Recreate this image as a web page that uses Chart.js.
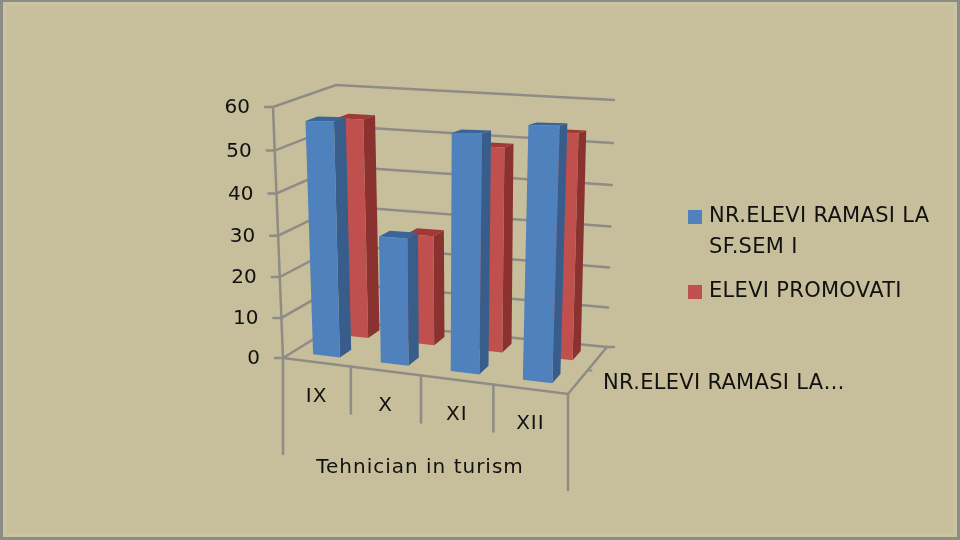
<!DOCTYPE html>
<html lang="en">
<head>
    <meta charset="UTF-8">
    <title>Tehnician in turism</title>
    <script src="https://cdn.jsdelivr.net/npm/chart.js"></script>
    <style>
        html, body { margin: 0; padding: 0; width: 960px; height: 540px; overflow: hidden; background: #C7BF9B; }
        #frame { position: absolute; left: 0; top: 0; width: 960px; height: 540px; box-sizing: border-box;
                 border: solid #8C8C86; border-width: 2px 3px 3px 3px; box-shadow: inset 0 0 0 4px #CBC4A0; }
        canvas { position: absolute; left: 0; top: 0; }
    </style>
</head>
<body>
    <div id="frame"></div>
    <canvas id="bars" width="960" height="540"></canvas>

    <script>
        const categories = ["IX", "X", "XI", "XII"];
        const seriesNames = ["NR.ELEVI RAMASI LA SF.SEM I", "ELEVI PROMOVATI"];
        const elevi = [56, 30, 54, 56];
        const promovati = [54, 27, 49, 53];
        const axisTitle = "Tehnician in turism";
        const depthLabel = "NR.ELEVI RAMASI LA…";
        const legendLines = [["NR.ELEVI RAMASI LA", "SF.SEM I"], ["ELEVI PROMOVATI"]];

        // corners of the 3D box as seen in the picture
        const box = {
            frontBottomLeft: [283, 358], frontBottomRight: [568, 394],
            backBottomLeft: [343, 321], backBottomRight: [607, 347],
            frontTopLeft: [273, 107], frontTopRight: [578, 108],
            backTopLeft: [336, 85], backTopRight: [614, 100]
        };
        const blue = { front: "#4F81BD", side: "#385D8A", top: "#3A659A" };
        const red = { front: "#C0504D", side: "#8A322F", top: "#A13A37" };
        const rows = [{ dataset: 1, near: 0.67, far: 0.87, colors: red }, { dataset: 0, near: 0.17, far: 0.37, colors: blue }];
        const lineColor = "#8E8C84";
        const font = '"DejaVu Sans", sans-serif';

        const mix = (a, b, t) => [a[0] + (b[0] - a[0]) * t, a[1] + (b[1] - a[1]) * t];

        // u along categories, d into the depth, v up the value axis, all 0..1
        function project(u, d, v) {
            const pu = u - 0.063 * u * (1 - u);
            const pv = v - 0.05 * v * (1 - v);
            const bottom = mix(mix(box.frontBottomLeft, box.frontBottomRight, pu), mix(box.backBottomLeft, box.backBottomRight, pu), d);
            const top = mix(mix(box.frontTopLeft, box.frontTopRight, pu), mix(box.backTopLeft, box.backTopRight, pu), d);
            return mix(bottom, top, pv);
        }

        function fillQuad(ctx, points, color) {
            ctx.fillStyle = color;
            ctx.beginPath();
            points.forEach((p, i) => i ? ctx.lineTo(p[0], p[1]) : ctx.moveTo(p[0], p[1]));
            ctx.closePath();
            ctx.fill();
        }

        function strokeLine(ctx, points, width) {
            ctx.strokeStyle = lineColor;
            ctx.lineWidth = width || 2.5;
            ctx.beginPath();
            points.forEach((p, i) => i ? ctx.lineTo(p[0], p[1]) : ctx.moveTo(p[0], p[1]));
            ctx.stroke();
        }

        const box3d = {
            id: "box3d",
            // walls, floor and labels go under the bars
            beforeDatasetsDraw(chart) {
                const ctx = chart.ctx;
                const y = chart.scales.y;
                const area = chart.chartArea;
                ctx.save();
                ctx.lineCap = "round";
                ctx.textBaseline = "middle";
                y.ticks.forEach(t => {
                    const v = (area.bottom - y.getPixelForValue(t.value)) / area.height;
                    const a = project(0, 0, v);
                    strokeLine(ctx, [[a[0] - 8, a[1]], a, project(0, 1, v), project(1, 1, v)]);
                    ctx.fillStyle = "#111";
                    ctx.font = "20px " + font;
                    ctx.textAlign = "right";
                    ctx.fillText(String(t.value), a[0] - 23, a[1] + 1);
                });
                strokeLine(ctx, [project(0, 0, 1), project(0, 0, 0)]);
                strokeLine(ctx, [project(0, 0, 0), project(1, 0, 0), project(1, 1, 0), [614, 347]]);
                const midFloor = project(1, 0.5, 0);
                strokeLine(ctx, [midFloor, [midFloor[0] + 4, midFloor[1]]], 2);

                // category boxes under the front edge
                [0, 1, 2, 3, 4].forEach(i => {
                    const a = project(i / 4, 0, 0);
                    const long = i === 0 || i === 4;
                    strokeLine(ctx, [a, [a[0], a[1] + (long ? 96 : 47)]]);
                });
                ctx.fillStyle = "#111";
                ctx.textAlign = "center";
                ctx.letterSpacing = "1px";
                categories.forEach((c, i) => {
                    const a = project((i + 0.5) / 4, 0, 0);
                    ctx.fillText(c, a[0], a[1] + 35);
                });
                ctx.fillText(axisTitle, 420, 468);
                ctx.font = "21px " + font;
                ctx.letterSpacing = "0.3px";
                ctx.textAlign = "left";
                ctx.fillText(depthLabel, 603, 384);
                ctx.restore();

                // bars are laid out by Chart.js, then warped into the box
                rows.forEach(row => {
                    const meta = chart.getDatasetMeta(row.dataset);
                    meta.data.forEach(bar => {
                        const u0 = (bar.x - bar.width / 2 - area.left) / area.width;
                        const u1 = (bar.x + bar.width / 2 - area.left) / area.width;
                        const v = (area.bottom - bar.y) / area.height;
                        const c = row.colors;
                        fillQuad(ctx, [project(u1, row.near, 0), project(u1, row.far, 0), project(u1, row.far, v), project(u1, row.near, v)], c.side);
                        fillQuad(ctx, [project(u0, row.near, v), project(u1, row.near, v), project(u1, row.far, v), project(u0, row.far, v)], c.top);
                        fillQuad(ctx, [project(u0, row.near, 0), project(u1, row.near, 0), project(u1, row.near, v), project(u0, row.near, v)], c.front);
                    });
                });

                // legend
                ctx.save();
                ctx.font = "21px " + font;
                ctx.letterSpacing = "0.3px";
                ctx.textAlign = "left";
                ctx.textBaseline = "middle";
                [[217, rows[1].colors.front], [292, rows[0].colors.front]].forEach((item, i) => {
                    ctx.fillStyle = item[1];
                    ctx.fillRect(688, item[0] - 7, 14, 14);
                    ctx.fillStyle = "#111";
                    legendLines[i].forEach((line, j) => ctx.fillText(line, 709, item[0] + j * 31));
                });
                ctx.restore();
                return false;
            }
        };

        new Chart(document.getElementById("bars").getContext("2d"), {
            type: "bar",
            data: {
                labels: categories,
                datasets: [
                    { label: seriesNames[0], data: elevi, backgroundColor: blue.front, grouped: false },
                    { label: seriesNames[1], data: promovati, backgroundColor: red.front, grouped: false }
                ]
            },
            options: {
                responsive: false,
                animation: false,
                barPercentage: 0.4,
                categoryPercentage: 1,
                layout: { padding: 0 },
                plugins: { legend: { display: false }, tooltip: { enabled: false } },
                scales: {
                    x: { display: false },
                    y: { display: false, min: 0, max: 60, ticks: { stepSize: 10 } }
                }
            },
            plugins: [box3d]
        });
    </script>
</body>
</html>
